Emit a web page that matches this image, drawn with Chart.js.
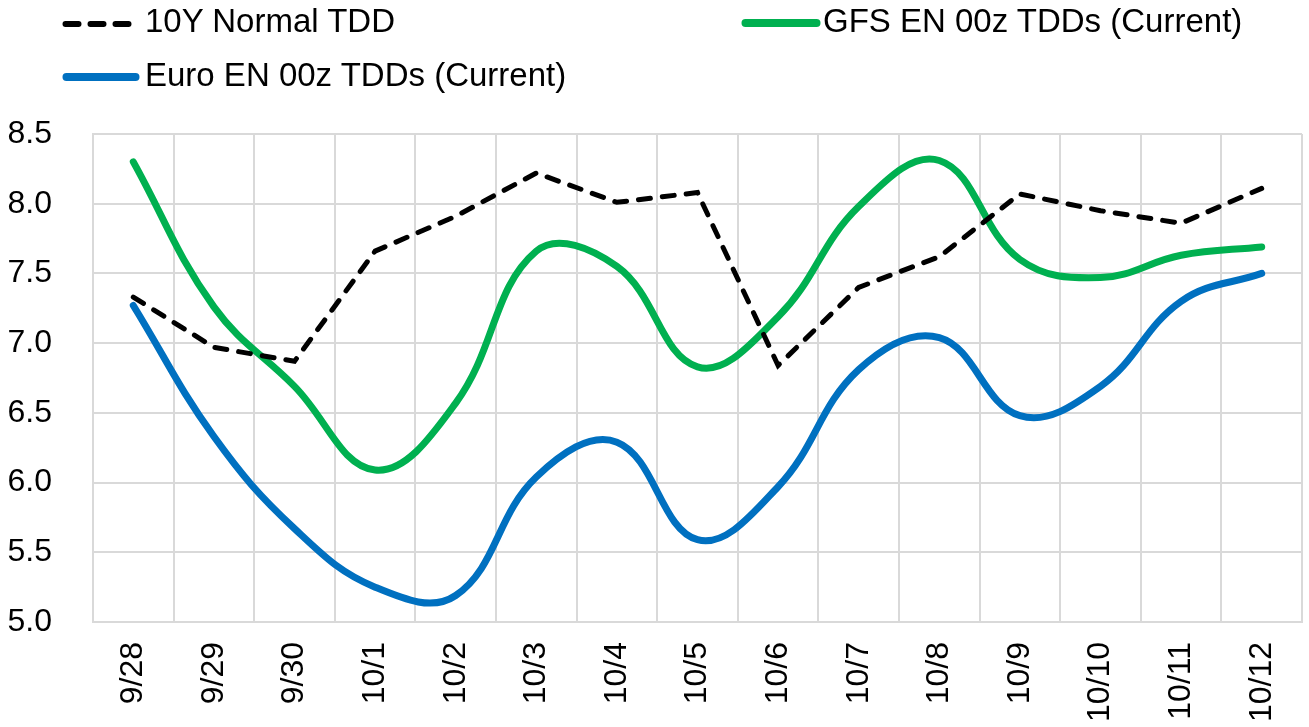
<!DOCTYPE html>
<html lang="en">
<head>
    <meta charset="UTF-8">
    <title>TDD Forecasts</title>
    <script src="https://cdn.jsdelivr.net/npm/chart.js"></script>
    <style>
        html, body { margin: 0; padding: 0; background: #fff; }
        #wrap { position: relative; width: 1309px; height: 727px; }
        #legend { position: absolute; left: 0; top: 0; font-family: "Liberation Sans", Arial, sans-serif; font-size: 33px; color: #000; }
        .item { position: absolute; white-space: nowrap; line-height: 1; }
        .mark { position: absolute; }
    </style>
</head>
<body>
<div id="wrap">
    <canvas id="chart" width="1309" height="727"></canvas>
    <div id="legend"></div>
</div>

<script>
    // data
    const labels = ['9/28', '9/29', '9/30', '10/1', '10/2', '10/3', '10/4', '10/5',
                    '10/6', '10/7', '10/8', '10/9', '10/10', '10/11', '10/12'];
    const normalTdd = [7.33, 6.97, 6.87, 7.66, 7.91, 8.22, 8.01, 8.08, 6.84, 7.40, 7.62, 8.07, 7.95, 7.86, 8.11];
    const gfsTdd    = [8.30, 7.26, 6.69, 6.09, 6.57, 7.66, 7.55, 6.83, 7.19, 7.98, 8.31, 7.60, 7.47, 7.63, 7.69];
    const euroTdd   = [7.27, 6.33, 5.67, 5.25, 5.19, 6.04, 6.29, 5.59, 5.97, 6.81, 7.04, 6.48, 6.69, 7.30, 7.50];
    const yTicks = [5.0, 5.5, 6.0, 6.5, 7.0, 7.5, 8.0, 8.5];

    const FONT = '"Liberation Sans", Arial, sans-serif';
    const GRID = '#d9d9d9';
    Chart.defaults.color = '#000';
    Chart.defaults.font.family = FONT;

    const datasets = [
        { label: '10Y Normal TDD', data: normalTdd, borderColor: '#000', borderWidth: 5,
          borderDash: [12, 12], borderCapStyle: 'round', tension: 0, order: 1 },
        { label: 'GFS EN 00z TDDs (Current)', data: gfsTdd, borderColor: '#00b050', borderWidth: 7,
          borderCapStyle: 'round', tension: 0.4, order: 2 },
        { label: 'Euro EN 00z TDDs (Current)', data: euroTdd, borderColor: '#0070c0', borderWidth: 7,
          borderCapStyle: 'round', tension: 0.4, order: 3 }
    ];

    const ctx = document.getElementById('chart').getContext('2d');
    const chart = new Chart(ctx, {
        type: 'line',
        data: { labels: labels, datasets: datasets },
        options: {
            responsive: false,
            animation: false,
            layout: { padding: { top: 134, right: 7, left: 0, bottom: 0 } },
            elements: { point: { radius: 0, hoverRadius: 0 } },
            plugins: { legend: { display: false }, tooltip: { enabled: false } },
            scales: {
                x: {
                    offset: true,
                    grid: { offset: true, color: GRID, lineWidth: 2, drawTicks: false },
                    border: { color: GRID, width: 2 },
                    ticks: { autoSkip: false, minRotation: 90, maxRotation: 90, padding: 20,
                             font: { size: 32 } },
                    afterFit: function (s) { s.height = 105; s.paddingLeft = 0; s.paddingRight = 0; }
                },
                y: {
                    min: yTicks[0],
                    max: yTicks[yTicks.length - 1],
                    grid: { color: GRID, lineWidth: 2, drawTicks: false },
                    border: { color: GRID, width: 2 },
                    ticks: { padding: 41, font: { size: 32 },
                             callback: function (v) { return Number(v).toFixed(1); } },
                    afterBuildTicks: function (s) { s.ticks = yTicks.map(function (v) { return { value: v }; }); },
                    afterFit: function (s) { s.width = 93; s.paddingTop = 0; s.paddingBottom = 0; }
                }
            }
        }
    });

    // legend laid out like the original two-column grid
    const legendPos = [
        { mx: 63, mw: 70, my: 24, tx: 145, ty: 4 },
        { mx: 742, mw: 78, my: 23, tx: 823, ty: 4 },
        { mx: 63, mw: 76, my: 77, tx: 145, ty: 58 }
    ];
    const legend = document.getElementById('legend');
    chart.data.datasets.forEach(function (ds, i) {
        const p = legendPos[i];
        const svgNS = 'http://www.w3.org/2000/svg';
        const svg = document.createElementNS(svgNS, 'svg');
        svg.setAttribute('class', 'mark');
        svg.setAttribute('width', p.mw + 10);
        svg.setAttribute('height', 14);
        svg.style.left = (p.mx - 5) + 'px';
        svg.style.top = (p.my - 7) + 'px';
        const line = document.createElementNS(svgNS, 'line');
        line.setAttribute('x1', 5 + ds.borderWidth / 2);
        line.setAttribute('x2', p.mw + 5 - ds.borderWidth / 2);
        line.setAttribute('y1', 7);
        line.setAttribute('y2', 7);
        line.setAttribute('stroke', ds.borderColor);
        line.setAttribute('stroke-width', ds.borderWidth + 1);
        line.setAttribute('stroke-linecap', 'round');
        if (ds.borderDash) line.setAttribute('stroke-dasharray', '13 12');
        svg.appendChild(line);
        legend.appendChild(svg);

        const span = document.createElement('span');
        span.className = 'item';
        span.textContent = ds.label;
        span.style.left = p.tx + 'px';
        span.style.top = p.ty + 'px';
        legend.appendChild(span);
    });
</script>
</body>
</html>
